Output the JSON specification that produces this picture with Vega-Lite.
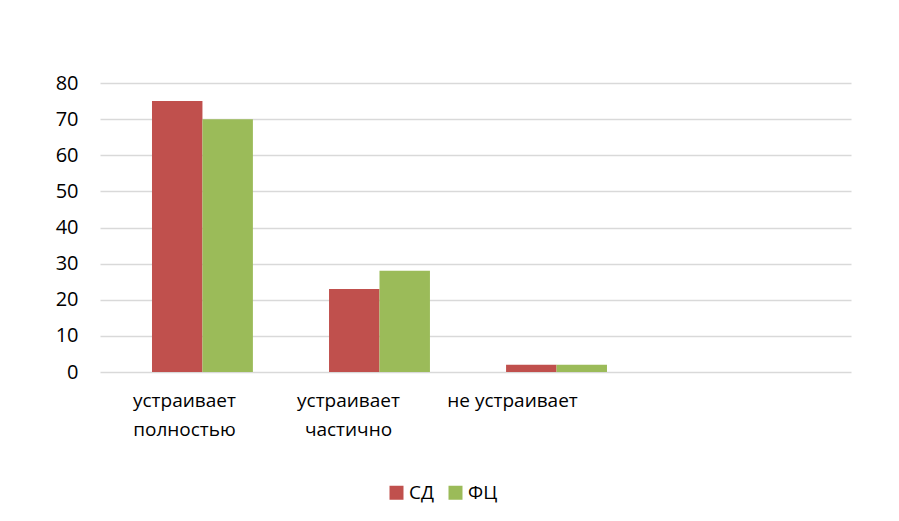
{
  "$schema": "https://vega.github.io/schema/vega-lite/v6.json",
  "autosize": "none",
  "width": 751,
  "height": 289,
  "padding": {"left": 100, "top": 83, "right": 48, "bottom": 149},
  "background": "white",
  "config": {
    "view": {"stroke": null},
    "font": "Open Sans",
    "axis": {"labelFont": "Open Sans", "labelColor": "#000000"},
    "legend": {"labelFont": "Open Sans"}
  },
  "data": {
    "values": [
      {"category": "устраивает полностью", "series": "СД", "value": 75},
      {"category": "устраивает полностью", "series": "ФЦ", "value": 70},
      {"category": "устраивает частично", "series": "СД", "value": 23},
      {"category": "устраивает частично", "series": "ФЦ", "value": 28},
      {"category": "не устраивает", "series": "СД", "value": 2},
      {"category": "не устраивает", "series": "ФЦ", "value": 2}
    ]
  },
  "mark": {"type": "bar"},
  "encoding": {
    "x": {
      "field": "category",
      "type": "nominal",
      "sort": null,
      "scale": {
        "domain": ["устраивает полностью", "устраивает частично", "не устраивает", " "],
        "paddingInner": 0.43,
        "paddingOuter": 0.336,
        "align": 0.437
      },
      "axis": {
        "title": null,
        "labelAngle": 0,
        "domain": false,
        "ticks": false,
        "labelFontSize": 19,
        "labelPadding": 19,
        "labelLineHeight": 29,
        "labelOffset": {
          "condition": [
            {"test": "datum.value == 'устраивает полностью'", "value": -18},
            {"test": "datum.value == 'устраивает частично'", "value": -31}
          ],
          "value": -44
        },
        "labelExpr": "datum.value == 'не устраивает' ? datum.value : split(datum.value, ' ')"
      }
    },
    "xOffset": {"field": "series", "type": "nominal", "scale": {"paddingInner": 0, "paddingOuter": 0}},
    "y": {
      "field": "value",
      "type": "quantitative",
      "scale": {"domain": [0, 80]},
      "axis": {
        "title": null,
        "values": [0, 10, 20, 30, 40, 50, 60, 70, 80],
        "domain": false,
        "ticks": false,
        "gridColor": "#d9d9d9",
        "gridWidth": 1.5,
        "labelFontSize": 20,
        "labelPadding": 22
      }
    },
    "color": {
      "field": "series",
      "type": "nominal",
      "scale": {"domain": ["СД", "ФЦ"], "range": ["#C0504D", "#9BBB59"]},
      "legend": {
        "title": null,
        "orient": "none",
        "direction": "horizontal",
        "legendX": 287,
        "legendY": 400,
        "symbolType": "square",
        "symbolSize": 196,
        "symbolStrokeWidth": 0,
        "labelFontSize": 19,
        "labelOffset": 3,
        "columnPadding": 12,
        "padding": 0
      }
    }
  }
}
